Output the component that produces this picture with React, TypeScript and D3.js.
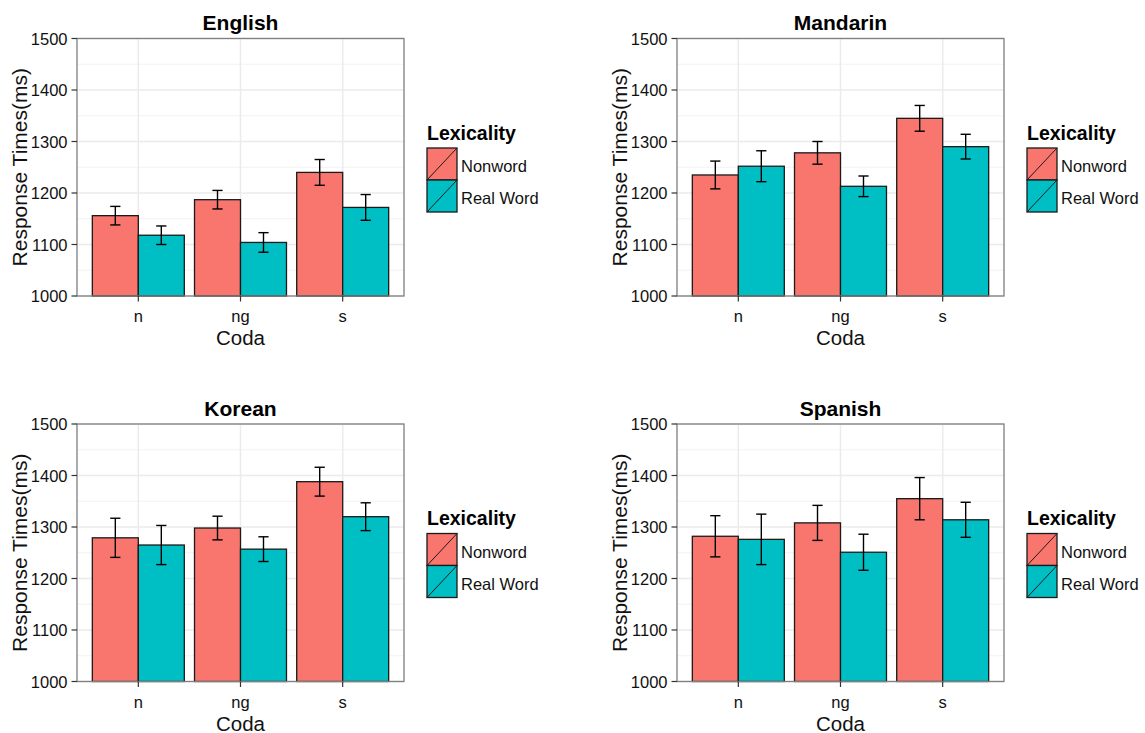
import React from "react";
import * as d3 from "d3";

const languages = ["English", "Mandarin", "Korean", "Spanish"];
const codas = ["n", "ng", "s"];
const lexicality = ["Nonword", "Real Word"];
const lexColors = ["#F8766D", "#00BFC4"];
const yTicks = [1000, 1100, 1200, 1300, 1400, 1500];
const yMinor = [1050, 1150, 1250, 1350, 1450];

// means (ms) per coda: n, ng, s
const englishNonword = [1156, 1187, 1240];
const englishNonwordErr = [18, 18, 25];
const englishReal = [1118, 1104, 1172];
const englishRealErr = [18, 19, 25];

const mandarinNonword = [1235, 1278, 1345];
const mandarinNonwordErr = [27, 22, 25];
const mandarinReal = [1252, 1213, 1290];
const mandarinRealErr = [30, 20, 24];

const koreanNonword = [1279, 1298, 1388];
const koreanNonwordErr = [38, 23, 28];
const koreanReal = [1265, 1257, 1320];
const koreanRealErr = [38, 24, 27];

const spanishNonword = [1282, 1308, 1355];
const spanishNonwordErr = [40, 34, 41];
const spanishReal = [1276, 1251, 1314];
const spanishRealErr = [49, 35, 34];

const panelData = [
  { means: [englishNonword, englishReal], errs: [englishNonwordErr, englishRealErr] },
  { means: [mandarinNonword, mandarinReal], errs: [mandarinNonwordErr, mandarinRealErr] },
  { means: [koreanNonword, koreanReal], errs: [koreanNonwordErr, koreanRealErr] },
  { means: [spanishNonword, spanishReal], errs: [spanishNonwordErr, spanishRealErr] },
];

const FONT = "'Liberation Sans', Arial, sans-serif";

function Panel({ idx, ox, oy }: { idx: number; ox: number; oy: number }) {
  const x0 = 77, x1 = 404, y0 = 38.5, y1 = 296;
  const x = d3.scaleLinear().domain([0.4, codas.length + 0.6]).range([x0, x1]);
  const y = d3.scaleLinear().domain([1000, 1500]).range([y1, y0]);
  const bw = 0.45;
  const capW = 0.05;
  const { means, errs } = panelData[idx];
  return (
    <g transform={`translate(${ox},${oy})`}>
      <rect x={x0} y={y0} width={x1 - x0} height={y1 - y0} fill="#fff" />
      {yMinor.map((t) => (
        <line key={"mn" + t} x1={x0} x2={x1} y1={y(t)} y2={y(t)} stroke="#F2F2F2" strokeWidth={1} />
      ))}
      {yTicks.map((t) => (
        <line key={"mj" + t} x1={x0} x2={x1} y1={y(t)} y2={y(t)} stroke="#EBEBEB" strokeWidth={1.5} />
      ))}
      {codas.map((c, i) => (
        <line key={"vx" + c} x1={x(i + 1)} x2={x(i + 1)} y1={y0} y2={y1} stroke="#EBEBEB" strokeWidth={1.5} />
      ))}
      {codas.map((c, i) =>
        lexicality.map((l, j) => {
          const left = j === 0 ? i + 1 - bw : i + 1;
          const v = means[j][i];
          return (
            <rect
              key={c + l}
              x={x(left)}
              y={y(v)}
              width={x(left + bw) - x(left)}
              height={y(1000) - y(v)}
              fill={lexColors[j]}
              stroke="#1a1a1a"
              strokeWidth={1.3}
            />
          );
        })
      )}
      {codas.map((c, i) =>
        lexicality.map((l, j) => {
          const cx = j === 0 ? i + 1 - bw / 2 : i + 1 + bw / 2;
          const v = means[j][i];
          const e = errs[j][i];
          return (
            <g key={"e" + c + l} stroke="#000" strokeWidth={1.4} fill="none">
              <line x1={x(cx)} x2={x(cx)} y1={y(v + e)} y2={y(v - e)} />
              <line x1={x(cx - capW)} x2={x(cx + capW)} y1={y(v + e)} y2={y(v + e)} />
              <line x1={x(cx - capW)} x2={x(cx + capW)} y1={y(v - e)} y2={y(v - e)} />
            </g>
          );
        })
      )}
      <rect x={x0} y={y0} width={x1 - x0} height={y1 - y0} fill="none" stroke="#7F7F7F" strokeWidth={1.3} />
      {yTicks.map((t) => (
        <g key={"yt" + t}>
          <line x1={x0 - 5.5} x2={x0} y1={y(t)} y2={y(t)} stroke="#333" strokeWidth={1.2} />
          <text x={x0 - 9.5} y={y(t)} textAnchor="end" dominantBaseline="central" fontSize={16.5} fill="#111" fontFamily={FONT}>
            {t}
          </text>
        </g>
      ))}
      {codas.map((c, i) => (
        <g key={"xt" + c}>
          <line x1={x(i + 1)} x2={x(i + 1)} y1={y1} y2={y1 + 5.5} stroke="#333" strokeWidth={1.2} />
          <text x={x(i + 1)} y={y1 + 26} textAnchor="middle" fontSize={16.5} fill="#111" fontFamily={FONT}>
            {c}
          </text>
        </g>
      ))}
      <text x={(x0 + x1) / 2} y={y0 - 8.5} textAnchor="middle" fontSize={21} fontWeight="bold" fill="#000" fontFamily={FONT}>
        {languages[idx]}
      </text>
      <text x={(x0 + x1) / 2} y={y1 + 49} textAnchor="middle" fontSize={20.5} fill="#111" fontFamily={FONT}>
        Coda
      </text>
      <text
        transform={`translate(${x0 - 58},${(y0 + y1) / 2}) rotate(-90)`}
        textAnchor="middle"
        dominantBaseline="central"
        fontSize={21}
        fill="#111"
        fontFamily={FONT}
      >
        Response Times(ms)
      </text>
      <g transform={`translate(${x1 + 23},0)`}>
        <text x={0} y={y0 + 101} fontSize={19.5} fontWeight="bold" fill="#000" fontFamily={FONT}>
          Lexicality
        </text>
        {lexicality.map((l, j) => {
          const ky = y0 + 109.5 + j * 32;
          return (
            <g key={"lg" + l}>
              <rect x={0} y={ky} width={30} height={32} fill={lexColors[j]} stroke="#1a1a1a" strokeWidth={1.3} />
              <line x1={0} y1={ky + 32} x2={30} y2={ky} stroke="#1a1a1a" strokeWidth={1} />
              <text x={34} y={ky + 18} dominantBaseline="central" fontSize={16.5} fill="#111" fontFamily={FONT}>
                {l}
              </text>
            </g>
          );
        })}
      </g>
    </g>
  );
}

export default function App() {
  const offsets = [
    [0, 0],
    [600, 0],
    [0, 385.5],
    [600, 385.5],
  ];
  return (
    <svg
      width={1145}
      height={733}
      style={{ position: "absolute", left: 0, top: 0, background: "#fff" }}
    >
      <rect width={1145} height={733} fill="#fff" />
      {languages.map((lang, i) => (
        <Panel key={lang} idx={i} ox={offsets[i][0]} oy={offsets[i][1]} />
      ))}
    </svg>
  );
}
